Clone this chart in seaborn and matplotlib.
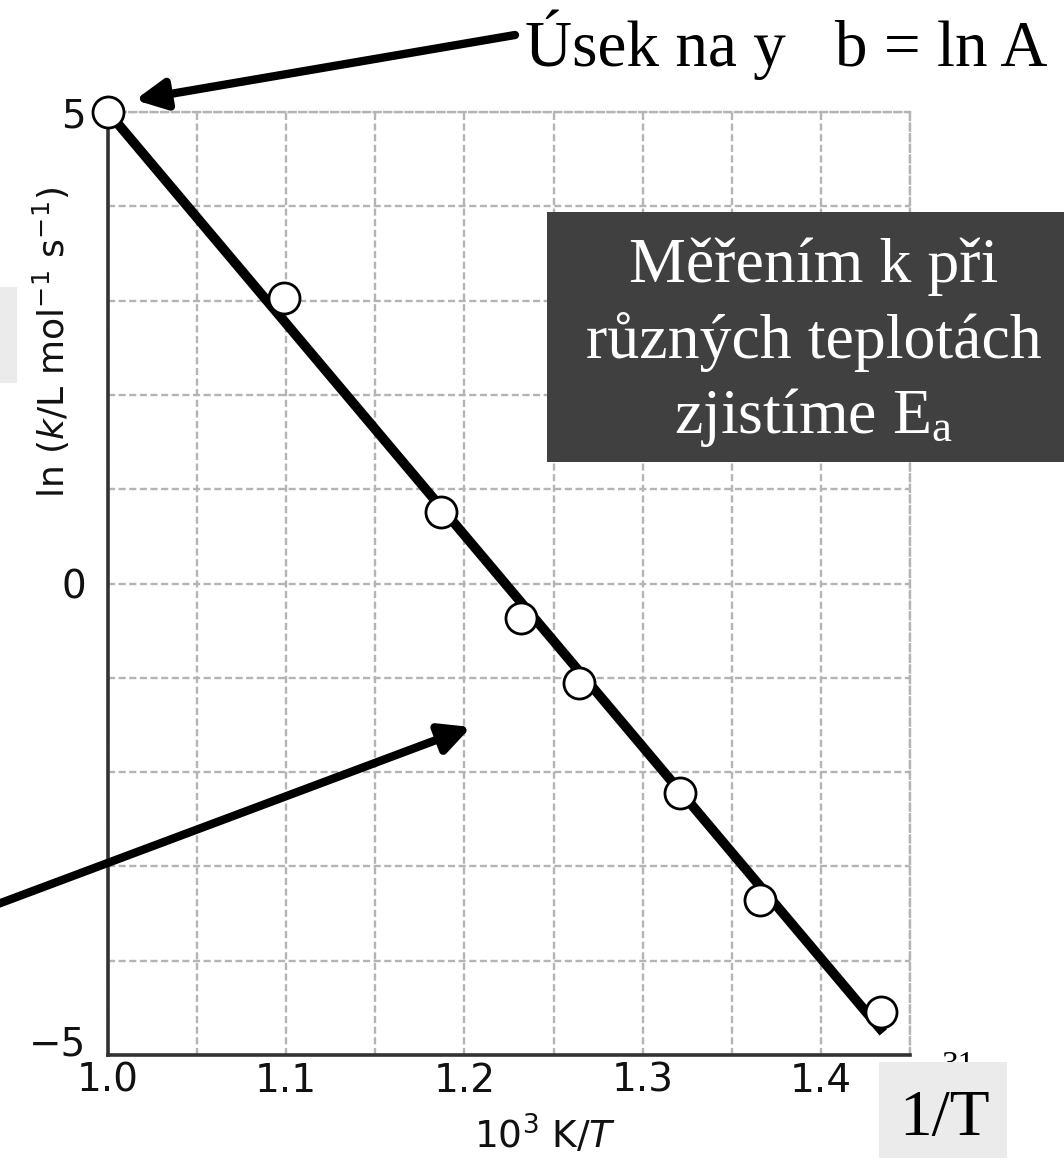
import matplotlib
matplotlib.use("Agg")
import matplotlib.pyplot as plt
from matplotlib.patches import Rectangle, FancyArrowPatch
import pandas as pd
import seaborn as sns

# Arrheniuv graf: ln k proti 1/T
inv_T = [1.0, 1.099, 1.187, 1.232, 1.264, 1.321, 1.366, 1.434]
ln_k = [5.0, 3.03, 0.76, -0.37, -1.06, -2.22, -3.36, -4.54]
fit_x = [1.0, 1.435]
fit_y = [5.0, -4.76]
x_ticks = [1.0, 1.1, 1.2, 1.3, 1.4]
x_grid = [1.05, 1.15, 1.25, 1.35, 1.45]
y_ticks = [-5, 0, 5]
y_grid = [-4, -3, -2, -1, 1, 2, 3, 4]
box_lines = ["Měřením k při", "různých teplotách", r"zjistíme $\mathrm{E_a}$"]

W, H = 1064, 1162


def px(x, y):
    # pixel (od leveho horniho rohu) -> souradnice obrazku
    return (x / W, 1 - y / H)


def rect(x0, y0, x1, y1, color, z):
    return Rectangle(px(x0, y1), (x1 - x0) / W, (y1 - y0) / H,
                     facecolor=color, edgecolor='none', zorder=z)


sns.set_theme(style="white")
plt.rcParams['font.family'] = ['DejaVu Sans']
plt.rcParams['text.color'] = 'black'
plt.rcParams['mathtext.rm'] = 'Liberation Serif'
plt.rcParams['mathtext.it'] = 'Liberation Serif:italic'

df = pd.DataFrame({'inv_T': inv_T, 'ln_k': ln_k})

fig = plt.figure(figsize=(W / 100, H / 100), dpi=100)
ax = fig.add_axes([108 / W, 107 / H, 802 / W, 943 / H])

sns.lineplot(x=fit_x, y=fit_y, color='black', linewidth=7, ax=ax,
             solid_capstyle='butt', zorder=3, clip_on=False)
sns.scatterplot(data=df, x='inv_T', y='ln_k', s=500, facecolor='white',
                edgecolor='black', linewidth=2, ax=ax, zorder=4, clip_on=False)

ax.set_xlim(1.0, 1.45)
ax.set_ylim(-5, 5)
ax.set_xticks(x_ticks)
ax.set_xticks(x_grid, minor=True)
ax.set_yticks(y_ticks)
ax.set_yticks(y_grid, minor=True)
ax.tick_params(which='both', length=0)
ax.tick_params(axis='x', pad=5, labelsize=28, colors='#111111')
ax.tick_params(axis='y', pad=16, labelsize=28, colors='#111111')
ax.get_yticklabels()[0].set_va('baseline')

ax.grid(True, which='both', color='#b4b4b4', linestyle=(0, (3, 1.5)), linewidth=1.7)
ax.set_axisbelow(True)
for s in ['left', 'bottom']:
    ax.spines[s].set_color('#333333')
    ax.spines[s].set_linewidth(2.6)
for s in ['top', 'right']:
    ax.spines[s].set_color('#b4b4b4')
    ax.spines[s].set_linestyle((0, (3, 1.5)))
    ax.spines[s].set_linewidth(1.7)

ax.set_ylabel(r'ln ($k$/L mol$^{-1}$ s$^{-1}$)', fontsize=26, color='#111111')
ax.yaxis.set_label_coords(-0.045, 0.756)
ax.set_xlabel(r'10$^3$ K/$T$', fontsize=27, color='#111111')
ax.xaxis.set_label_coords(0.545, -0.062)

# poznamky ze slajdu
serif = 'Liberation Serif'
fig.text(*px(525, 66), "Úsek na y   b = ln A", family=serif, fontsize=47,
         ha='left', va='baseline', zorder=5)

fig.add_artist(rect(547, 212, W + 5, 462, '#404040', 2))
for line, yb in zip(box_lines, [282, 358, 433]):
    fig.text(*px(814, yb), line, family=serif, fontsize=46, color='white',
             ha='center', va='baseline', math_fontfamily='custom', zorder=4)

fig.add_artist(rect(0, 287, 17, 383, '#ebebeb', 2))

fig.text(*px(958, 1050), "31", family=serif, fontsize=24, ha='center',
         va='top', zorder=2)
fig.add_artist(rect(879, 1062, 1007, 1158, '#ebebeb', 3))
fig.text(*px(945, 1135), "1/T", family=serif, fontsize=47, ha='center',
         va='baseline', zorder=4)

for a, b in [((515, 35), (135, 100)), ((-10, 907), (471, 727))]:
    arr = FancyArrowPatch(px(*a), px(*b), transform=fig.transFigure,
                          arrowstyle='-|>,head_length=18,head_width=9',
                          mutation_scale=1, linewidth=6, color='black',
                          shrinkA=0, shrinkB=0, zorder=6)
    fig.add_artist(arr)

fig.savefig('out.png', dpi=100)
